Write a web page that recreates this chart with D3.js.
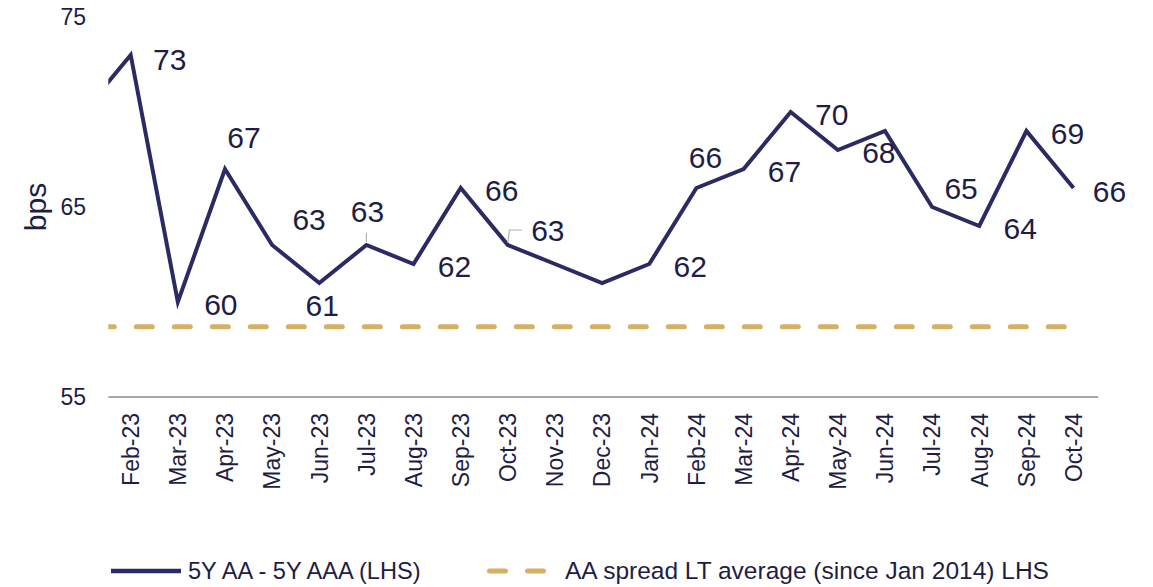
<!DOCTYPE html>
<html>
<head>
<meta charset="utf-8">
<script src="https://cdn.jsdelivr.net/npm/d3@7"></script>
<style>
  body { margin: 0; background: #fff; }
  svg text { font-family: "Liberation Sans", Arial, sans-serif; fill: #1e1e45; }
</style>
</head>
<body>
<svg width="1153" height="587"></svg>
<script>
// months (Jan-23 sits just outside the plot and gets clipped)
var months = ["Jan-23","Feb-23","Mar-23","Apr-23","May-23","Jun-23","Jul-23","Aug-23","Sep-23",
  "Oct-23","Nov-23","Dec-23","Jan-24","Feb-24","Mar-24","Apr-24","May-24","Jun-24",
  "Jul-24","Aug-24","Sep-24","Oct-24"];
// 5Y AA - 5Y AAA spread, bps
var spread = [70, 73, 60, 67, 63, 61, 63, 62, 66, 63, 62, 61, 62, 66, 67, 70, 68, 69, 65, 64, 69, 66];
// long term average of the AA spread
var ltAverage = 58.7;
var yTicks = [55, 65, 75];
var hiddenLabels = ["Jan-23", "Nov-23", "Dec-23", "Jun-24"];
var seriesNames = ["5Y AA - 5Y AAA (LHS)", "AA spread LT average (since Jan 2014) LHS"];

// label nudges (relative to the point) where it is not the default right side
var nudge = {
  "Feb-23": [39, 15], "Mar-23": [43, 13], "Apr-23": [19, -21], "May-23": [37, -15],
  "Jun-23": [3, 33], "Jul-23": [1, -23], "Oct-23": [40, -4], "Feb-24": [9, -20],
  "Jul-24": [29, -8], "Oct-24": [36, 14]
};

var navy = "#2b2a63", gold = "#d6b063";

var svg = d3.select("svg");
var plotL = 108.3, plotR = 1098.3, plotT = 17, plotB = 397;
var bw = (plotR - plotL) / 20;

var x = d3.scalePoint()
    .domain(months)
    .range([plotL - bw / 2, plotR - bw / 2]);

var y = d3.scaleLinear()
    .domain([55, 75])
    .range([plotB, plotT]);

svg.append("defs").append("clipPath").attr("id", "plot")
  .append("rect").attr("x", plotL).attr("y", 0).attr("width", plotR - plotL).attr("height", plotB);

// axis line
svg.append("line")
    .attr("x1", plotL).attr("x2", plotR)
    .attr("y1", plotB).attr("y2", plotB)
    .attr("stroke", "#a6a6a6").attr("stroke-width", 2);

// y labels
svg.selectAll(".ytick")
  .data(yTicks)
  .enter().append("text")
    .attr("x", 86)
    .attr("y", function(d) { return y(d); })
    .attr("dy", "0.36em")
    .attr("text-anchor", "end")
    .style("font-size", "23px")
    .text(function(d) { return d; });

svg.append("text")
    .attr("transform", "translate(46," + y(65) + ") rotate(-90)")
    .attr("text-anchor", "middle")
    .style("font-size", "30px")
    .text("bps");

// x labels
svg.selectAll(".xtick")
  .data(months.slice(1))
  .enter().append("text")
    .attr("transform", function(d) { return "translate(" + x(d) + ",413) rotate(-90)"; })
    .attr("dy", "0.36em")
    .attr("text-anchor", "end")
    .style("font-size", "23px")
    .text(function(d) { return d; });

// long term average
svg.append("line")
    .attr("clip-path", "url(#plot)")
    .attr("x1", plotL).attr("x2", x("Oct-24"))
    .attr("y1", y(ltAverage)).attr("y2", y(ltAverage))
    .attr("stroke", gold).attr("stroke-width", 5)
    .attr("stroke-linecap", "round")
    .attr("stroke-dasharray", "16 22")
    .attr("stroke-dashoffset", 10);

// spread line
var line = d3.line()
    .x(function(d, i) { return x(months[i]); })
    .y(function(d) { return y(d); });

svg.append("path")
    .datum(spread)
    .attr("clip-path", "url(#plot)")
    .attr("d", line)
    .attr("fill", "none")
    .attr("stroke", navy)
    .attr("stroke-width", 4);

// little leader lines
var jx = x("Jul-23"), jy = y(spread[months.indexOf("Jul-23")]);
svg.append("path")
    .attr("d", "M" + jx + "," + (jy - 3) + "V" + (jy - 12))
    .attr("stroke", "#b0b0b0").attr("stroke-width", 1.2).attr("fill", "none");
var ox = x("Oct-23"), oy = y(spread[months.indexOf("Oct-23")]);
svg.append("path")
    .attr("d", "M" + ox + "," + (oy - 2) + "L" + (ox + 1.5) + "," + (oy - 15) + "H" + (ox + 14))
    .attr("stroke", "#b0b0b0").attr("stroke-width", 1.2).attr("fill", "none");

// data labels
svg.selectAll(".lbl")
  .data(spread.map(function(v, i) { return { m: months[i], v: v }; })
    .filter(function(d) { return hiddenLabels.indexOf(d.m) < 0; }))
  .enter().append("text")
    .attr("x", function(d) { return x(d.m) + (nudge[d.m] || [41, 13])[0]; })
    .attr("y", function(d) { return y(d.v) + (nudge[d.m] || [41, 13])[1]; })
    .attr("text-anchor", "middle")
    .style("font-size", "30px")
    .text(function(d) { return d.v; });

// legend
var lg = svg.append("g");
lg.append("line")
    .attr("x1", 111).attr("x2", 181).attr("y1", 571).attr("y2", 571)
    .attr("stroke", navy).attr("stroke-width", 4.5);
lg.append("text")
    .attr("x", 188).attr("y", 579)
    .style("font-size", "23.6px")
    .text(seriesNames[0]);
lg.append("line")
    .attr("x1", 489.5).attr("x2", 544).attr("y1", 571).attr("y2", 571)
    .attr("stroke", gold).attr("stroke-width", 5)
    .attr("stroke-linecap", "round")
    .attr("stroke-dasharray", "16 22");
lg.append("text")
    .attr("x", 565).attr("y", 579)
    .style("font-size", "24.5px")
    .text(seriesNames[1]);
</script>
</body>
</html>
